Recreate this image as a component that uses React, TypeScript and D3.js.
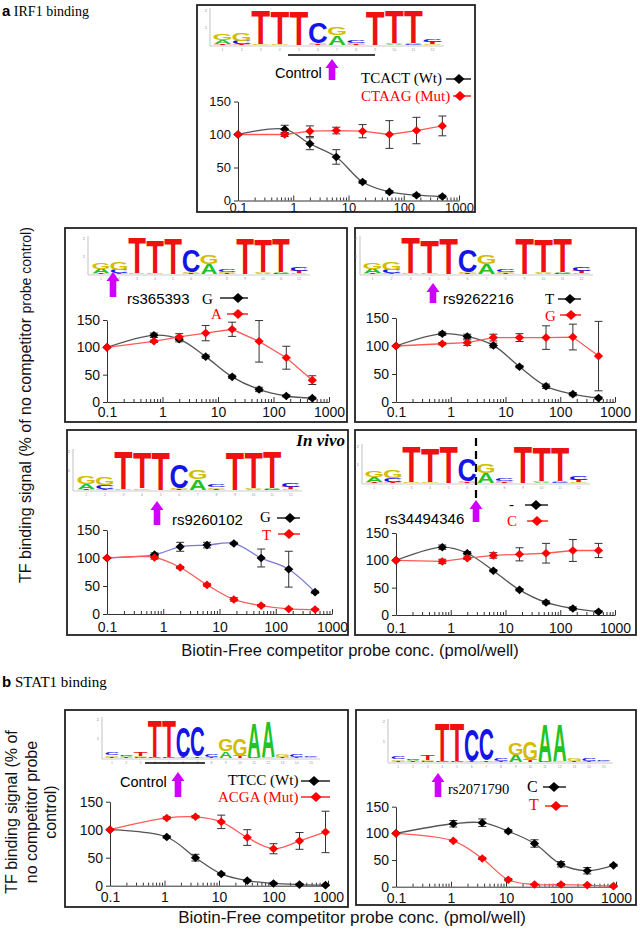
import React, { useEffect, useRef } from 'react';
import * as d3 from 'd3';

// competitor concentrations (pmol/well)
const irfConc = [0.1, 0.7, 2, 6, 18, 55, 170, 500];
const stat1Conc = [0.1, 1.1, 3.7, 11, 33, 100, 300, 900];

// IRF1 control probe
const ctrlWt = [100, 108, 86, 66, 28, 13, 8, 6];
const ctrlWtErr = [0, 6, 9, 11, 2, 2, 2, 2];
const ctrlMut = [100, 100, 105, 106, 105, 100, 106, 113];
const ctrlMutErr = [0, 3, 8, 5, 10, 21, 20, 15];

// rs365393
const rs365393G = [100, 122, 115, 83, 46, 23, 11, 7];
const rs365393GErr = [0, 4, 5, 3, 3, 4, 2, 2];
const rs365393A = [100, 111, 119, 126, 133, 111, 81, 40];
const rs365393AErr = [0, 2, 6, 14, 13, 38, 21, 8];

// rs9262216
const rs9262216T = [100, 122, 117, 101, 63, 28, 14, 7];
const rs9262216TErr = [0, 3, 4, 4, 2, 4, 3, 2];
const rs9262216G = [100, 104, 106, 115, 115, 115, 116, 82];
const rs9262216GErr = [0, 2, 5, 6, 7, 21, 23, 62];

// rs9260102 (in vivo)
const rs9260102G = [100, 106, 120, 123, 126, 100, 80, 39];
const rs9260102GErr = [0, 3, 8, 5, 2, 16, 32, 2];
const rs9260102T = [100, 101, 83, 52, 26, 15, 9, 8];
const rs9260102TErr = [0, 3, 2, 2, 3, 2, 1, 1];

// rs34494346
const rs34494346Del = [100, 124, 113, 81, 46, 23, 12, 6];
const rs34494346DelErr = [0, 4, 3, 2, 2, 3, 3, 2];
const rs34494346C = [100, 98, 104, 109, 111, 113, 118, 118];
const rs34494346CErr = [0, 4, 2, 5, 12, 18, 20, 13];

// STAT1 control probe
const stat1Wt = [100, 87, 50, 21, 9, 4, 2, 1];
const stat1WtErr = [0, 2, 6, 2, 2, 2, 2, 1];
const stat1Mut = [100, 121, 123, 114, 86, 66, 80, 96];
const stat1MutErr = [0, 2, 2, 12, 14, 9, 15, 37];

// rs2071790
const rs2071790C = [100, 118, 120, 104, 81, 42, 30, 40];
const rs2071790CErr = [0, 6, 7, 3, 7, 5, 6, 2];
const rs2071790T = [100, 86, 53, 13, 4, 4, 3, 1];
const rs2071790TErr = [0, 1, 2, 2, 1, 2, 1, 1];

const yTicks = [0, 50, 100, 150];
const xTicks = [0.1, 1, 10, 100, 1000];
const xMinor = [0.1, 1, 10, 100].flatMap(d => [2, 3, 4, 5, 6, 7, 8, 9].map(k => d * k));

// sequence logos, letters listed bottom to top with height in bits
const irfLogo = [
  [['T', 0.05], ['A', 0.25], ['G', 0.38]],
  [['T', 0.05], ['C', 0.2], ['G', 0.42]],
  [['G', 0.03], ['T', 1.95]],
  [['G', 0.08], ['T', 1.86]],
  [['T', 1.97]],
  [['T', 0.06], ['G', 0.06], ['C', 1.22]],
  [['A', 0.55], ['G', 0.48]],
  [['T', 0.05], ['G', 0.08], ['C', 0.15]],
  [['T', 1.97]],
  [['A', 0.05], ['G', 0.04], ['T', 1.86]],
  [['C', 0.05], ['A', 0.04], ['T', 1.88]],
  [['G', 0.05], ['T', 0.12], ['C', 0.18]],
];
const stat1Logo = [
  [['T', 0.06], ['G', 0.08], ['C', 0.14]],
  [['T', 0.04], ['A', 0.04], ['C', 0.05]],
  [['C', 0.05], ['G', 0.05], ['T', 0.22]],
  [['C', 0.03], ['T', 1.9]],
  [['C', 0.03], ['T', 1.9]],
  [['T', 0.04], ['C', 1.58]],
  [['T', 0.08], ['C', 1.55]],
  [['T', 0.06], ['C', 0.12]],
  [['A', 0.35], ['G', 0.6]],
  [['T', 0.1], ['G', 0.9]],
  [['C', 0.04], ['A', 1.8]],
  [['G', 0.03], ['A', 1.82]],
  [['T', 0.05], ['G', 0.1]],
  [['T', 0.04], ['C', 0.1]],
  [['G', 0.04], ['C', 0.06]],
];

const SANS = 'Liberation Sans, Arial, sans-serif';
const SERIF = 'Liberation Serif, Times New Roman, serif';
const MAGENTA = '#d000ff';
const RED = '#ff0000';
const RED_LINE = '#ff5a5a';
const GREY_LINE = '#555555';
const BLUE_LINE = '#7a7ad6';
const letterColor: any = { A: '#22c322', C: '#1414e6', G: '#d2bd00', T: '#ee1111' };
const inkW: any = { A: 0.7, C: 0.64, G: 0.68, T: 0.57 };

const panels: any[] = [
  {
    box: [197, 5, 278, 207], xr: [238, 459], yr: [200.5, 101.5], fs: 13, tickDy: 11.5,
    logo: { cols: irfLogo, x: 213, w: 229, base: 45, bitH: 17.5, axisX: 210 },
    underline: [288, 375, 55],
    arrows: [[332, 59, 80]],
    texts: [
      { t: 'Control', x: 275, y: 78, f: SANS, s: 14.5, c: '#000' },
      { t: 'TCACT (Wt)', x: 361, y: 83, f: SERIF, s: 15, c: '#000' },
      { t: 'CTAAG (Mut)', x: 361, y: 101, f: SERIF, s: 15, c: RED },
    ],
    legend: [
      { x1: 446, x2: 471, m: 459, y: 79, c: '#000', l: '#000' },
      { x1: 453, x2: 471, m: 460, y: 96, c: RED, l: RED },
    ],
    series: [
      { conc: irfConc, v: ctrlWt, e: ctrlWtErr, fill: '#000', line: GREY_LINE, smooth: true },
      { conc: irfConc, v: ctrlMut, e: ctrlMutErr, fill: RED, line: RED_LINE, smooth: false },
    ],
  },
  {
    box: [65, 228, 282, 194], xr: [107, 329], yr: [402, 320], fs: 14, tickDy: 15,
    logo: { cols: irfLogo, x: 92, w: 216, base: 274, bitH: 18, axisX: 88 },
    arrows: [[113, 272, 297]],
    texts: [
      { t: 'rs365393', x: 127, y: 304, f: SANS, s: 15, c: '#000' },
      { t: 'G', x: 202, y: 304, f: SERIF, s: 15, c: '#000' },
      { t: 'A', x: 211, y: 319, f: SERIF, s: 15, c: RED },
    ],
    legend: [
      { x1: 220, x2: 248, m: 238, y: 298, c: '#000', l: '#000' },
      { x1: 227, x2: 248, m: 238, y: 314, c: RED, l: RED },
    ],
    series: [
      { conc: irfConc, v: rs365393G, e: rs365393GErr, fill: '#000', line: GREY_LINE, smooth: true },
      { conc: irfConc, v: rs365393A, e: rs365393AErr, fill: RED, line: RED_LINE, smooth: false },
    ],
  },
  {
    box: [355, 228, 281, 194], xr: [396, 615], yr: [402, 318], fs: 14, tickDy: 15,
    logo: { cols: irfLogo, x: 363, w: 228, base: 274, bitH: 18, axisX: 360 },
    arrows: [[433, 283, 303]],
    texts: [
      { t: 'rs9262216', x: 443, y: 304, f: SANS, s: 15, c: '#000' },
      { t: 'T', x: 545, y: 304, f: SERIF, s: 15, c: '#000' },
      { t: 'G', x: 545, y: 321, f: SERIF, s: 15, c: RED },
    ],
    legend: [
      { x1: 558, x2: 581, m: 570, y: 299, c: '#000', l: '#000' },
      { x1: 560, x2: 581, m: 571, y: 315, c: RED, l: RED },
    ],
    series: [
      { conc: irfConc, v: rs9262216T, e: rs9262216TErr, fill: '#000', line: GREY_LINE, smooth: true },
      { conc: irfConc, v: rs9262216G, e: rs9262216GErr, fill: RED, line: RED_LINE, smooth: false },
    ],
  },
  {
    box: [67, 430, 281, 205], xr: [107, 332], yr: [614, 530], fs: 14, tickDy: 18,
    logo: { cols: irfLogo, x: 77, w: 223, base: 490, bitH: 19.5, axisX: 73 },
    arrows: [[157, 501, 525]],
    texts: [
      { t: 'In vivo', x: 345, y: 446, f: SERIF, s: 17, c: '#000', a: 'end', w: 'bold', st: 'italic' },
      { t: 'rs9260102', x: 172, y: 525, f: SANS, s: 15, c: '#000' },
      { t: 'G', x: 260, y: 522, f: SERIF, s: 15, c: '#000' },
      { t: 'T', x: 262, y: 540, f: SERIF, s: 15, c: RED },
    ],
    legend: [
      { x1: 277, x2: 300, m: 290, y: 518, c: '#000', l: '#000' },
      { x1: 278, x2: 300, m: 289, y: 534, c: RED, l: RED },
    ],
    series: [
      { conc: irfConc, v: rs9260102G, e: rs9260102GErr, fill: '#000', line: BLUE_LINE, smooth: true },
      { conc: irfConc, v: rs9260102T, e: rs9260102TErr, fill: RED, line: RED_LINE, smooth: true },
    ],
  },
  {
    box: [355, 430, 281, 205], xr: [396, 615], yr: [615, 533], fs: 14, tickDy: 18,
    logo: { cols: irfLogo, x: 365, w: 223, base: 483, bitH: 18.5, axisX: 362 },
    dashed: [476, 438, 501],
    arrows: [[476, 500, 522]],
    texts: [
      { t: 'rs34494346', x: 385, y: 524, f: SANS, s: 15, c: '#000' },
      { t: '-', x: 509, y: 509, f: SERIF, s: 15, c: '#000' },
      { t: 'C', x: 507, y: 526, f: SERIF, s: 15, c: RED },
    ],
    legend: [
      { x1: 525, x2: 548, m: 536, y: 505, c: '#000', l: '#000' },
      { x1: 527, x2: 548, m: 537, y: 521, c: RED, l: RED },
    ],
    series: [
      { conc: irfConc, v: rs34494346Del, e: rs34494346DelErr, fill: '#000', line: GREY_LINE, smooth: true },
      { conc: irfConc, v: rs34494346C, e: rs34494346CErr, fill: RED, line: RED_LINE, smooth: false },
    ],
  },
  {
    box: [65, 710, 283, 197], xr: [110, 328], yr: [885.7, 801.7], fs: 14, tickDy: 16,
    logo: { cols: stat1Logo, x: 105, w: 213, base: 758, bitH: 19.5, axisX: 102 },
    underline: [145, 205, 763],
    arrows: [[178, 772, 797]],
    texts: [
      { t: 'Control', x: 120, y: 787, f: SANS, s: 14.5, c: '#000' },
      { t: 'TTCC (Wt)', x: 228, y: 785, f: SERIF, s: 15, c: '#000' },
      { t: 'ACGA (Mut)', x: 218, y: 802, f: SERIF, s: 15, c: RED },
    ],
    legend: [
      { x1: 301, x2: 330, m: 314, y: 781, c: '#000', l: '#000' },
      { x1: 301, x2: 330, m: 316, y: 797, c: RED, l: RED },
    ],
    series: [
      { conc: stat1Conc, v: stat1Wt, e: stat1WtErr, fill: '#000', line: GREY_LINE, smooth: true },
      { conc: stat1Conc, v: stat1Mut, e: stat1MutErr, fill: RED, line: RED_LINE, smooth: true },
    ],
  },
  {
    box: [356, 710, 280, 195], xr: [396, 616], yr: [886.7, 806.7], fs: 14, tickDy: 16,
    logo: { cols: stat1Logo, x: 391, w: 220, base: 762, bitH: 20.5, axisX: 388 },
    arrows: [[438, 773, 797]],
    texts: [
      { t: 'rs2071790', x: 448, y: 794, f: SERIF, s: 14.5, c: '#000' },
      { t: 'C', x: 527, y: 792, f: SERIF, s: 16, c: '#000' },
      { t: 'T', x: 529, y: 810, f: SERIF, s: 16, c: RED },
    ],
    legend: [
      { x1: 543, x2: 566, m: 554, y: 787, c: '#000', l: '#000' },
      { x1: 545, x2: 568, m: 556, y: 806, c: RED, l: RED },
    ],
    series: [
      { conc: stat1Conc, v: rs2071790C, e: rs2071790CErr, fill: '#000', line: GREY_LINE, smooth: true },
      { conc: stat1Conc, v: rs2071790T, e: rs2071790TErr, fill: RED, line: RED_LINE, smooth: true },
    ],
  },
];

const diamond = (w: number, h: number) => `M0,${-h}L${w},0L0,${h}L${-w},0Z`;

function drawLogo(g: any, L: any) {
  const cw = L.w / L.cols.length;
  const top = L.base - 2 * L.bitH;
  g.append('line').attr('x1', L.axisX).attr('x2', L.axisX).attr('y1', L.base + 1).attr('y2', top - 2)
    .attr('stroke', '#999').attr('stroke-width', 0.6);
  g.append('line').attr('x1', L.axisX).attr('x2', L.x + L.w + 2).attr('y1', L.base + 1).attr('y2', L.base + 1)
    .attr('stroke', '#aaa').attr('stroke-width', 0.6);
  [1, 2].forEach(b => {
    g.append('text').text(String(b)).attr('x', L.axisX - 3).attr('y', L.base - b * L.bitH + 1.5)
      .attr('font-size', 4).attr('font-family', SANS).attr('fill', '#888').attr('text-anchor', 'end');
  });
  L.cols.forEach((col: any, i: number) => {
    const cx = L.x + cw * (i + 0.5);
    g.append('text').text(String(i + 1)).attr('x', cx).attr('y', L.base + 5.5)
      .attr('font-size', 3.5).attr('font-family', SANS).attr('fill', '#999').attr('text-anchor', 'middle');
    let yb = L.base;
    col.forEach(([ch, bits]: [string, number]) => {
      const h = bits * L.bitH;
      g.append('text').text(ch)
        .attr('font-family', SANS).attr('font-weight', 'bold').attr('font-size', 100)
        .attr('text-anchor', 'middle').attr('fill', letterColor[ch])
        .attr('transform', `translate(${cx},${yb}) scale(${(cw * 0.92) / (inkW[ch] * 100)},${h / 71.6})`);
      yb -= h;
    });
  });
}

function drawArrow(g: any, cx: number, y1: number, y2: number) {
  const hw = 6.5, sw = 3.3, hh = 9;
  const pts = [[cx, y1], [cx + hw, y1 + hh], [cx + sw, y1 + hh], [cx + sw, y2], [cx - sw, y2], [cx - sw, y1 + hh], [cx - hw, y1 + hh]];
  g.append('polygon').attr('points', pts.map(p => p.join(',')).join(' ')).attr('fill', MAGENTA);
}

function drawPanel(root: any, p: any) {
  const g = root.append('g');
  const [bx, by, bw, bh] = p.box;
  g.append('rect').attr('x', bx).attr('y', by).attr('width', bw).attr('height', bh)
    .attr('fill', 'none').attr('stroke', '#222').attr('stroke-width', 1.8);

  drawLogo(g, p.logo);
  if (p.underline) {
    const [u1, u2, uy] = p.underline;
    g.append('line').attr('x1', u1).attr('x2', u2).attr('y1', uy).attr('y2', uy).attr('stroke', '#000').attr('stroke-width', 1.3);
  }
  if (p.dashed) {
    const [dx, d1, d2] = p.dashed;
    g.append('line').attr('x1', dx).attr('x2', dx).attr('y1', d1).attr('y2', d2)
      .attr('stroke', '#000').attr('stroke-width', 2.2).attr('stroke-dasharray', '8,5');
  }
  p.arrows.forEach(([ax, a1, a2]: number[]) => drawArrow(g, ax, a1, a2));
  p.texts.forEach((t: any) => {
    g.append('text').text(t.t).attr('x', t.x).attr('y', t.y)
      .attr('font-family', t.f).attr('font-size', t.s).attr('fill', t.c)
      .attr('text-anchor', t.a || 'start').attr('font-weight', t.w || 'normal').attr('font-style', t.st || 'normal');
  });
  p.legend.forEach((l: any) => {
    g.append('line').attr('x1', l.x1).attr('x2', l.x2).attr('y1', l.y).attr('y2', l.y).attr('stroke', l.l).attr('stroke-width', 1.3);
    g.append('path').attr('d', diamond(5.5, 5)).attr('transform', `translate(${l.m},${l.y})`).attr('fill', l.c);
  });

  const x = d3.scaleLog().domain([0.1, 1000]).range(p.xr);
  const y = d3.scaleLinear().domain([0, 150]).range(p.yr);

  const xa = g.append('g').attr('transform', `translate(0,${p.yr[0]})`)
    .call(d3.axisBottom(x).tickValues(xTicks).tickFormat((d: any) => String(d))
      .tickSizeInner(-5).tickSizeOuter(0).tickPadding(p.tickDy - 0.71 * p.fs));
  const xm = g.append('g').attr('transform', `translate(0,${p.yr[0]})`)
    .call(d3.axisBottom(x).tickValues(xMinor).tickFormat(() => '').tickSizeInner(-3).tickSizeOuter(0));
  xm.select('.domain').remove();
  const ya = g.append('g').attr('transform', `translate(${p.xr[0]},0)`)
    .call(d3.axisLeft(y).tickValues(yTicks).tickSizeInner(4).tickSizeOuter(0).tickPadding(3));
  [xa, xm, ya].forEach(a => {
    a.selectAll('path,line').attr('stroke', '#333').attr('stroke-width', 1);
    a.selectAll('text').attr('font-family', SANS).attr('font-size', p.fs).attr('fill', '#111');
  });

  p.series.forEach((s: any) => {
    const pts = s.conc.map((c: number, i: number) => [x(c), y(s.v[i])]);
    const line = d3.line().curve(s.smooth ? d3.curveCatmullRom.alpha(0.5) : d3.curveLinear);
    g.append('path').attr('d', line(pts)).attr('fill', 'none').attr('stroke', s.line).attr('stroke-width', 1.3);
  });
  p.series.forEach((s: any) => {
    s.conc.forEach((c: number, i: number) => {
      const e = s.e[i];
      if (!e) return;
      const cx = x(c), yt = y(s.v[i] + e), yb2 = y(s.v[i] - e);
      const eg = g.append('g').attr('stroke', '#333').attr('stroke-width', 1);
      eg.append('line').attr('x1', cx).attr('x2', cx).attr('y1', yt).attr('y2', yb2);
      eg.append('line').attr('x1', cx - 4).attr('x2', cx + 4).attr('y1', yt).attr('y2', yt);
      eg.append('line').attr('x1', cx - 4).attr('x2', cx + 4).attr('y1', yb2).attr('y2', yb2);
    });
  });
  p.series.forEach((s: any) => {
    g.append('g').selectAll('path').data(s.conc).join('path')
      .attr('d', diamond(4.6, 4.3))
      .attr('transform', (c: number, i: number) => `translate(${x(c)},${y(s.v[i])})`)
      .attr('fill', s.fill);
  });
}

export default function App() {
  const ref = useRef<SVGSVGElement>(null);

  useEffect(() => {
    const svg = d3.select(ref.current);
    svg.selectAll('*').remove();
    panels.forEach(p => drawPanel(svg, p));

    // panel headings
    const head = (letter: string, label: string, yb: number, s: number) => {
      const t = svg.append('text').attr('x', 2).attr('y', yb).attr('fill', '#000');
      t.append('tspan').text(letter).attr('font-family', SANS).attr('font-weight', 'bold').attr('font-size', 15);
      t.append('tspan').text(' ' + label).attr('font-family', SERIF).attr('font-size', s);
    };
    head('a', 'IRF1 binding', 16, 14);
    head('b', 'STAT1 binding', 687, 15);

    // axis titles
    svg.append('text').text('Biotin-Free competitor probe conc. (pmol/well)')
      .attr('x', 350).attr('y', 656).attr('text-anchor', 'middle')
      .attr('font-family', SANS).attr('font-size', 16.5).attr('fill', '#111');
    svg.append('text').text('Biotin-Free competitor probe conc. (pmol/well)')
      .attr('x', 352).attr('y', 923).attr('text-anchor', 'middle')
      .attr('font-family', SANS).attr('font-size', 17).attr('fill', '#111');

    const ya = svg.append('text').attr('transform', 'translate(31,583) rotate(-90)')
      .attr('font-family', SANS).attr('fill', '#111');
    ya.append('tspan').text('TF binding signal (% of no competitor ').attr('font-size', 16);
    ya.append('tspan').text('probe control)').attr('font-size', 14);

    ['TF binding signal (% of', 'no competitor probe', 'control)'].forEach((l, i) => {
      svg.append('text').text(l).attr('transform', `translate(${17 + i * 19.5},812) rotate(-90)`)
        .attr('text-anchor', 'middle').attr('font-family', SANS).attr('font-size', 16).attr('fill', '#111');
    });
  }, []);

  return (
    <svg ref={ref} width={640} height={930}
      style={{ position: 'absolute', left: 0, top: 0, background: '#fff', display: 'block' }} />
  );
}
